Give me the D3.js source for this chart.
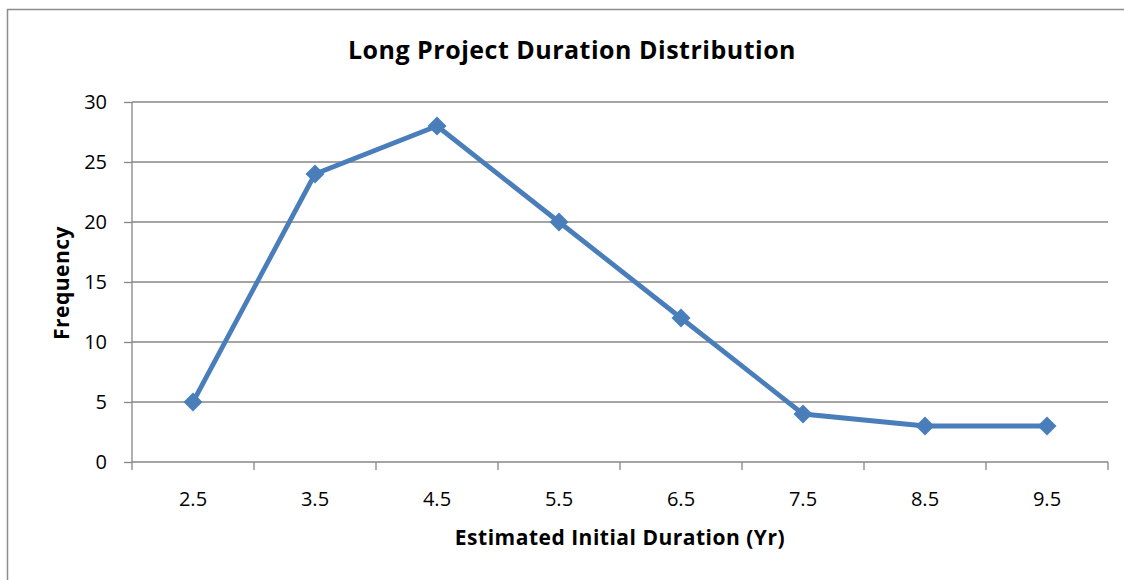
<!DOCTYPE html>
<html>
<head>
<meta charset="utf-8">
<script src="https://cdn.jsdelivr.net/npm/d3@7"></script>
<style>
  html, body { margin: 0; padding: 0; background: #fff; }
  svg { display: block; font-family: "Open Sans", "Liberation Sans", sans-serif; }
</style>
</head>
<body>
<svg id="chart" width="1124" height="580"></svg>
<script>
// Duration buckets (years) and how many projects fall in each
const durations = ["2.5", "3.5", "4.5", "5.5", "6.5", "7.5", "8.5", "9.5"];
const frequencies = [5, 24, 28, 20, 12, 4, 3, 3];
const yTicks = [0, 5, 10, 15, 20, 25, 30];

const title = "Long Project Duration Distribution";
const xTitle = "Estimated Initial Duration (Yr)";
const yTitle = "Frequency";

const svg = d3.select("#chart");
const plot = { left: 132, right: 1108, top: 102, bottom: 462 };
const axisColor = "#868686";
const lineColor = "#4A7EBB";
const font = "'Open Sans', sans-serif";

// Outer chart frame
svg.append("rect")
  .attr("x", 7.5).attr("y", 9.5)
  .attr("width", 1124).attr("height", 580)
  .attr("fill", "#fff").attr("stroke", "#8c8c8c").attr("stroke-width", 1.5);

const x = d3.scaleBand().domain(durations).range([plot.left, plot.right]);
const y = d3.scaleLinear().domain([0, 30]).range([plot.bottom, plot.top]);

// Horizontal gridlines
svg.append("g").selectAll("line")
  .data(yTicks.filter(d => d > 0))
  .join("line")
  .attr("x1", plot.left).attr("x2", plot.right)
  .attr("y1", d => y(d)).attr("y2", d => y(d))
  .attr("stroke", axisColor).attr("stroke-width", 1.3);

// Y axis
const yAxis = svg.append("g")
  .attr("transform", `translate(${plot.left},0)`)
  .call(d3.axisLeft(y).tickValues(yTicks).tickSize(8).tickPadding(17).tickFormat(d3.format("d")));
yAxis.select(".domain").attr("stroke", axisColor).attr("stroke-width", 1.3).attr("d", `M0,${plot.top}V${plot.bottom}`);
yAxis.selectAll(".tick line").attr("stroke", axisColor).attr("stroke-width", 1.3);
yAxis.selectAll(".tick text").attr("font-size", 20).attr("fill", "#000").style("font-family", font);

// X axis with ticks at category boundaries
const xAxis = svg.append("g").attr("transform", `translate(0,${plot.bottom})`);
xAxis.append("line")
  .attr("x1", plot.left).attr("x2", plot.right)
  .attr("stroke", axisColor).attr("stroke-width", 1.3);
const boundaries = durations.map(d => x(d)).concat([x(durations[durations.length - 1]) + x.bandwidth()]);
xAxis.selectAll("line.tk").data(boundaries).join("line")
  .attr("class", "tk")
  .attr("x1", d => d).attr("x2", d => d)
  .attr("y1", 0).attr("y2", 8)
  .attr("stroke", axisColor).attr("stroke-width", 1.3);
xAxis.selectAll("text").data(durations).join("text")
  .attr("x", d => x(d) + x.bandwidth() / 2)
  .attr("y", 44)
  .attr("text-anchor", "middle")
  .attr("font-size", 20)
  .text(d => d);

// Frequency line
const cx = d => x(d) + x.bandwidth() / 2;
svg.append("path")
  .datum(durations.map((d, i) => [cx(d), y(frequencies[i])]))
  .attr("d", d3.line())
  .attr("fill", "none")
  .attr("stroke", lineColor)
  .attr("stroke-width", 4.8)
  .attr("stroke-linejoin", "round");

// Diamond markers
svg.append("g").selectAll("path")
  .data(durations)
  .join("path")
  .attr("transform", (d, i) => `translate(${cx(d)},${y(frequencies[i])}) rotate(45)`)
  .attr("d", d3.symbol(d3.symbolSquare, 180)())
  .attr("fill", lineColor);

// Titles
svg.append("text")
  .attr("x", 572).attr("y", 59)
  .attr("text-anchor", "middle")
  .attr("font-size", 25).attr("font-weight", "bold")
  .attr("letter-spacing", 0.5)
  .text(title);

svg.append("text")
  .attr("x", 620).attr("y", 545)
  .attr("text-anchor", "middle")
  .attr("font-size", 21).attr("font-weight", "bold")
  .attr("letter-spacing", 0.5)
  .text(xTitle);

svg.append("text")
  .attr("transform", "translate(69,283) rotate(-90)")
  .attr("text-anchor", "middle")
  .attr("font-size", 21).attr("font-weight", "bold")
  .attr("letter-spacing", 0.5)
  .text(yTitle);
</script>
</body>
</html>
